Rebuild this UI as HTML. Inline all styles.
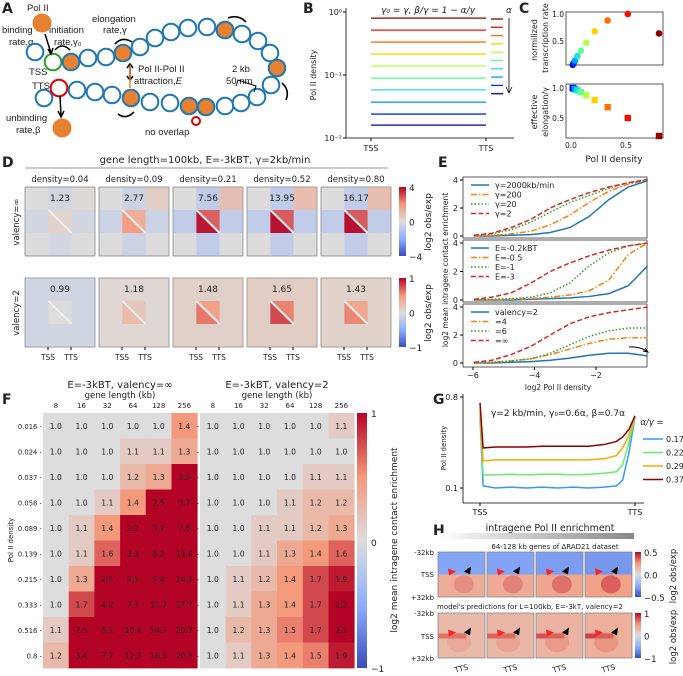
<!DOCTYPE html>
<html><head><meta charset="utf-8">
<style>
html,body{margin:0;padding:0;background:#fff;}
svg{display:block;font-family:"DejaVu Sans","Liberation Sans",sans-serif;}
text{fill:#222;}
</style></head>
<body>
<svg id="fig" width="683" height="676" viewBox="0 0 683 676" xmlns="http://www.w3.org/2000/svg">
<defs>
<linearGradient id="hgrad" x1="0" x2="1" y1="0" y2="0"><stop offset="0" stop-color="#fff"/><stop offset="1" stop-color="#888"/></linearGradient>
<linearGradient id="cb4" x1="0" x2="0" y1="0" y2="1"><stop offset="0" stop-color="#b40426"/><stop offset="0.25" stop-color="#f4987a"/><stop offset="0.5" stop-color="#dddddd"/><stop offset="0.75" stop-color="#8db0fe"/><stop offset="1" stop-color="#3b4cc0"/></linearGradient>
</defs>
<g font-weight="bold" font-size="14">
<text x="2" y="13">A</text>
<text x="303" y="13">B</text>
<text x="519" y="13">C</text>
<text x="2" y="167">D</text>
<text x="438" y="167">E</text>
<text x="2" y="404">F</text>
<text x="433" y="404">G</text>
<text x="433" y="535">H</text>
</g>
<g font-size="9.5" font-family="Liberation Sans, sans-serif">
<text x="27" y="11">Pol II</text>
<text x="2" y="33">binding</text><text x="9" y="45">rate,α</text>
<text x="49" y="33">initiation</text><text x="54" y="45">rate,γ₀</text>
<text x="92" y="22">elongation</text><text x="103" y="33">rate,γ</text>
<text x="29" y="75">TSS</text><text x="32" y="89">TTS</text>
<text x="138" y="72">Pol II-Pol II</text><text x="134" y="84">attraction,<tspan font-style="italic">E</tspan></text>
<text x="232" y="72">2 kb</text><text x="226" y="84">50 nm</text>
<text x="6" y="121">unbinding</text><text x="16" y="133">rate,β</text>
<text x="145" y="135">no overlap</text>
</g>
<g id="panelA"></g>
<g id="panelB"></g>
<g id="panelC"></g>
<g id="panelD"></g>
<g id="panelE"></g>
<g id="panelF"></g>
<g id="panelG"></g>
<g id="panelH"></g>
</svg>
<script>
// ---------- data ----------
const densities = [0.016,0.024,0.037,0.058,0.089,0.139,0.215,0.333,0.516,0.8];
const bColors = ['#0000b4','#0030ff','#00a0ff','#20e0e0','#60ff90','#b0ff40','#ffd000','#ff7000','#f01000','#8b0000'];
const cRate = [0.06,0.09,0.14,0.22,0.32,0.47,0.68,0.88,1.0,0.64];
const cElong = [1.0,0.99,0.98,0.96,0.93,0.88,0.80,0.68,0.50,0.20];
const dDensLabels = ['0.04','0.09','0.21','0.52','0.80'];
const dValsTop = [1.23,2.77,7.56,13.95,16.17];
const dValsBot = [0.99,1.18,1.48,1.65,1.43];
const eX = [-5.97,-5.38,-4.76,-4.11,-3.49,-2.85,-2.22,-1.58,-0.95,-0.32];
const e1Blue = [0,0,0.05,0.1,0.25,0.6,1.4,2.6,3.5,3.95];
const e1Orange = [0,0.05,0.15,0.35,0.8,1.5,2.4,3.2,3.7,4.0];
const e1Green = [0.05,0.15,0.45,1.0,1.7,2.4,2.9,3.4,3.8,4.0];
const e1Red = [0.05,0.2,0.6,1.2,2.0,2.6,3.1,3.5,3.8,4.05];
const e2Blue = [0,0,0,0.05,0.1,0.15,0.25,0.45,1.0,2.4];
const e2Orange = [0,0,0.05,0.1,0.2,0.35,0.65,1.4,3.2,4.0];
const e2Green = [0,0.05,0.1,0.2,0.5,1.2,2.4,3.3,3.8,4.0];
const e2Red = [0.05,0.2,0.5,1.2,2.0,2.6,3.1,3.5,3.8,4.0];
const e3Blue = [0,0,0.05,0.1,0.2,0.35,0.55,0.7,0.7,0.5];
const e3Orange = [0,0.05,0.15,0.3,0.6,1.0,1.4,1.7,1.8,1.8];
const e3Green = [0,0.05,0.15,0.3,0.7,1.3,1.9,2.3,2.5,2.5];
const e3Red = [0.05,0.2,0.6,1.2,2.0,2.8,3.3,3.6,3.8,4.0];
const e1Labels = ['γ=2000kb/min','γ=200','γ=20','γ=2'];
const e2Labels = ['E=-0.2kBT','E=-0.5','E=-1','E=-3'];
const e3Labels = ['valency=2','=4','=6','=∞'];
const fGeneLengths = ['8','16','32','64','128','256'];
const fRowLabels = ['0.016','0.024','0.037','0.058','0.089','0.139','0.215','0.333','0.516','0.8'];
const fLeft = [
[1.0,1.0,1.0,1.0,1.0,1.4],[1.0,1.0,1.0,1.1,1.1,1.3],[1.0,1.0,1.0,1.2,1.3,2.9],[1.0,1.0,1.1,1.4,2.5,3.7],
[1.0,1.1,1.4,2.2,3.7,7.6],[1.0,1.1,1.6,3.3,6.2,11.6],[1.0,1.3,2.5,5.5,9.4,14.7],[1.0,1.7,4.2,7.7,11.7,17.7],
[1.1,2.5,6.1,10.4,14.7,20.7],[1.2,3.4,7.7,12.3,16.5,20.7]];
const fRight = [
[1.0,1.0,1.0,1.0,1.0,1.1],[1.0,1.0,1.0,1.0,1.0,1.0],[1.0,1.0,1.0,1.0,1.1,1.1],[1.0,1.0,1.0,1.1,1.2,1.2],
[1.0,1.0,1.1,1.1,1.2,1.3],[1.0,1.0,1.1,1.3,1.4,1.6],[1.0,1.1,1.2,1.4,1.7,1.9],[1.0,1.1,1.3,1.4,1.7,2.2],
[1.0,1.2,1.3,1.5,1.7,2.1],[1.0,1.1,1.3,1.4,1.5,1.9]];
const gPos = [0,0.02,0.1,0.2,0.3,0.4,0.5,0.6,0.7,0.8,0.88,0.92,0.96,1.0];
const g017 = [0.5,0.105,0.10,0.102,0.10,0.102,0.10,0.102,0.10,0.102,0.105,0.12,0.22,0.5];
const g022 = [0.55,0.135,0.135,0.137,0.135,0.137,0.137,0.135,0.137,0.14,0.145,0.17,0.28,0.5];
const g029 = [0.6,0.185,0.19,0.19,0.19,0.19,0.19,0.19,0.19,0.195,0.21,0.25,0.33,0.52];
const g037 = [0.7,0.25,0.255,0.255,0.255,0.26,0.26,0.26,0.26,0.27,0.29,0.32,0.38,0.52];
const gLabels = ['0.17','0.22','0.29','0.37'];
const hExp = [0.35,0.45,0.65,0.85];
const hModel = [0.4,0.5,0.7,0.85];

// ---------- helpers ----------
const NS='http://www.w3.org/2000/svg';
function mk(parent, tag, attrs){const e=document.createElementNS(NS,tag);for(const k in attrs)e.setAttribute(k,attrs[k]);parent.appendChild(e);return e;}
function txt(parent,x,y,s,size,anchor,extra){const e=mk(parent,'text',Object.assign({x:x,y:y,'font-size':size||8,'text-anchor':anchor||'start'},extra||{}));e.textContent=s;return e;}
function lerp(a,b,t){return a+(b-a)*t;}
function cw(t){t=Math.max(-1,Math.min(1,t));const st=[[-1,[59,76,192]],[-0.5,[141,176,254]],[0,[221,221,221]],[0.5,[244,152,122]],[1,[180,4,38]]];
 for(let i=0;i<st.length-1;i++){if(t<=st[i+1][0]){const u=(t-st[i][0])/(st[i+1][0]-st[i][0]);const c=st[i][1].map((v,j)=>Math.round(lerp(v,st[i+1][1][j],u)));return 'rgb('+c.join(',')+')';}}return 'rgb(180,4,38)';}

// ---------- Panel A ----------
const A=document.getElementById('panelA');
const chainTop=[[35,52],[53,62],[71,62],[88,58],[106,57],[123,53],[140,47],[155,38],[171,32],[188,28],[207,27],[225,30],[242,34],[258,41],[270,53],[277,68]];
const chainBot=[[44,98],[59,88],[77,90],[95,92],[112,95],[131,98],[150,102],[170,103],[189,106],[206,107],[225,106],[241,103],[257,97],[271,85]];
const filled={'71,62':1,'123,53':1,'225,30':1,'277,68':1,'131,98':1,'189,106':1,'206,107':1};
[...chainTop,...chainBot].forEach(p=>{
 const k=p[0]+','+p[1];
 let stroke='#1f77b4';
 if(k==='53,62')stroke='#2ca02c';
 if(k==='59,88')stroke='#e00000';
 const c=mk(A,'circle',{cx:p[0],cy:p[1],r:8.3,fill:filled[k]?'#e8812f':'#fff',stroke:stroke,'stroke-width':2});
 
 
});
const p1=mk(A,'circle',{cx:42,cy:23,r:9.5,fill:'#e8812f'});


const p2=mk(A,'circle',{cx:62,cy:128,r:9.5,fill:'#e8812f'});


const arrA=mk(A,'path',{d:'M45 34 L51 53 M48 49 L51 54 L53 48 M60 96 L61 115 M58 111 L61 117 L64 111',stroke:'#000','stroke-width':1.5,fill:'none'});


const arrB=mk(A,'path',{d:'M55 50 Q62 42 70 50 M115 44 Q122 36 132 42 M228 18 Q238 14 246 22 M282 83 Q290 90 286 100 M118 114 Q126 120 134 112 M130 80 L130 64 M127 68 L130 64 L133 68 M127 76 L130 80 L133 76',stroke:'#000','stroke-width':1.6,fill:'none'});


const attr=mk(A,'path',{d:'M130 65 L130 88',stroke:'#e8812f','stroke-width':1.5});


const noOv=mk(A,'circle',{cx:196,cy:121,r:4,fill:'none',stroke:'#e00000','stroke-width':2});


const brk=mk(A,'path',{d:'M236 86 L238 80 L256 86 L254 92',stroke:'#000','stroke-width':1,fill:'none'});



// ---------- Panel B ----------
const B=document.getElementById('panelB');
const bx0=346,bx1=514,bTSS=371,bTTS=486;
function byScale(d){return 12+(0-Math.log10(d))*63;}
const bAx=mk(B,'path',{d:`M${bx0} 8 L${bx0} 138 L${bx1} 138`,stroke:'#000','stroke-width':0.8,fill:'none'});


[[1,'10⁰'],[0.1,'10⁻¹'],[0.01,'10⁻²']].forEach(t=>{const y=byScale(t[0]);mk(B,'line',{x1:bx0-3,x2:bx0,y1:y,y2:y,stroke:'#000'});const l=txt(B,bx0-4,y+3,t[1],8,'end');});
[[bTSS,'TSS'],[bTTS,'TTS']].forEach(t=>{mk(B,'line',{x1:t[0],x2:t[0],y1:138,y2:141,stroke:'#000'});const l=txt(B,t[0],151,t[1],8,'middle');});
const bYl=txt(B,0,0,'Pol II density',8,'middle',{transform:'translate(316,75) rotate(-90)'});


const bT=txt(B,428,13,'γ₀ = γ, β/γ = 1 − α/γ',9,'middle',{'font-style':'italic'});


densities.forEach((d,i)=>{const y=byScale(d);
 const ln=mk(B,'line',{x1:bTSS,x2:bTTS,y1:y,y2:y,stroke:bColors[i],'stroke-width':1.3});
 
 
 const lg=mk(B,'line',{x1:491,x2:503,y1:19+(9-i)*8.3,y2:19+(9-i)*8.3,stroke:bColors[i],'stroke-width':1.3});
 
 
});
const bArr=mk(B,'path',{d:'M509 18 L509 92 M506 87 L509 93 L512 87',stroke:'#000','stroke-width':0.8,fill:'none'});


const bA=txt(B,506,13,'α',9,'start',{'font-style':'italic'});



// ---------- Panel C ----------
const C=document.getElementById('panelC');
function cx(d){return 571+d*110;}
const cFr1=mk(C,'rect',{x:566,y:12,width:97,height:53,fill:'none',stroke:'#333','stroke-width':0.8});


const cFr2=mk(C,'rect',{x:566,y:84,width:97,height:54,fill:'none',stroke:'#333','stroke-width':0.8});


function cy1(v){return 14+(1-v)*54;}
function cy2(v){return 88+(1-v)*60;}
[[1,'1.0'],[0.5,'0.5']].forEach(t=>{const l=txt(C,564,cy1(t[0])+3,t[1],7.5,'end');
 const l2=txt(C,564,cy2(t[0])+3,t[1],7.5,'end');});
[[0,'0.0'],[0.5,'0.5']].forEach(t=>{const l=txt(C,cx(t[0]),148,t[1],7.5,'middle');});
const cXl=txt(C,614,162,'Pol II density',9,'middle');


const cY1=txt(C,0,0,'normilized',8,'middle',{transform:'translate(537,40) rotate(-90)'});


const cY1b=txt(C,0,0,'transcription rate',8,'middle',{transform:'translate(548,38) rotate(-90)'});


const cY2=txt(C,0,0,'effective',8,'middle',{transform:'translate(537,112) rotate(-90)'});


const cY2b=txt(C,0,0,'elongation/γ',8,'middle',{transform:'translate(548,112) rotate(-90)'});


densities.forEach((d,i)=>{
 const pt=mk(C,'circle',{cx:cx(d),cy:cy1(cRate[i]),r:3.3,fill:bColors[i]});
 
 
 const sq=mk(C,'rect',{x:cx(d)-3.2,y:cy2(cElong[i])-3.2,width:6.4,height:6.4,fill:bColors[i]});
 
 
});

// ---------- Panel D ----------
const D=document.getElementById('panelD');
const dT=txt(D,205,163,'gene length=100kb, E=-3kBT, γ=2kb/min',10,'middle');


const dLine=mk(D,'line',{x1:25,x2:388,y1:168,y2:168,stroke:'#999','stroke-width':1});


function dHeat(x,y,w,h,I,val,inf){
 const g=mk(D,'g',{});
 
 
 mk(g,'rect',{x:x,y:y,width:w,height:h,fill:'#dcdcdc',stroke:'#888','stroke-width':0.8});
 const a=x+w/3,b=x+2*w/3,c=y+h/3,d=y+2*h/3;
 if(inf){
  const bo=0.1+0.25*I;
  [[x,c,w/3,h/3],[b,c,w/3,h/3],[a,y,w/3,h/3],[a,d,w/3,h/3]].forEach(r=>mk(g,'rect',{x:r[0],y:r[1],width:r[2],height:r[3],fill:'#8db0fe','fill-opacity':bo}));
  mk(g,'rect',{x:b,y:y,width:w/3,height:h/3,fill:'#f4987a','fill-opacity':0.45*I});
 }else{
  mk(g,'rect',{x:x,y:y,width:w,height:h,fill:'#f4a88a','fill-opacity':0.35*I});
  if(I<0.1) mk(g,'rect',{x:x,y:y,width:w,height:h,fill:'#a8c0f0','fill-opacity':0.25});
 }
 mk(g,'polygon',{points:`${a},${c} ${a},${d} ${b},${d}`,fill:cw(I),'fill-opacity':0.95});
 mk(g,'polygon',{points:`${a},${c} ${b},${c} ${b},${d}`,fill:cw(I*0.75),'fill-opacity':0.9});
 mk(g,'line',{x1:a,y1:c,x2:b,y2:d,stroke:'#eee','stroke-width':2});
 const t=txt(g,x+w/2,y+14,val.toFixed(2),9,'middle');
 
 
}
const dX=[25,99,173,247,321];
dX.forEach((x,i)=>{
 const l=txt(D,x+35,182,'density='+dDensLabels[i],8.5,'middle');
 
 
 dHeat(x,187,70,69,Math.min(1,Math.log2(dValsTop[i])/3),dValsTop[i],true);
 dHeat(x,278,70,69,Math.min(1,Math.max(0,Math.log2(dValsBot[i])*1.1)),dValsBot[i],false);
 ['TSS','TTS'].forEach((s,j)=>{const tx=x+23+j*23;mk(D,'line',{x1:tx,x2:tx,y1:347,y2:350,stroke:'#000'});const l2=txt(D,tx,360,s,7.5,'middle');});
});
const dV1=txt(D,0,0,'valency=∞',8.5,'middle',{transform:'translate(19,222) rotate(-90)'});


const dV2=txt(D,0,0,'valency=2',8.5,'middle',{transform:'translate(19,313) rotate(-90)'});


[[187,['4','0','−4']],[278,['1','0','−1']]].forEach(cb=>{
 const r=mk(D,'rect',{x:399,y:cb[0],width:7,height:69,fill:'url(#cb4)'});
 
 
 cb[1].forEach((s,k)=>{const l=txt(D,409,cb[0]+4+k*34.5,s,9);});
 const lb=txt(D,0,0,'log2 obs/exp',9,'middle',{transform:`translate(431,${cb[0]+35}) rotate(-90)`});
 
 
});

// ---------- Panel E ----------
const E=document.getElementById('panelE');
const ex0=463,ex1=647;
function exs(v){return 473+(v+6)*30.75;}
const eStyles=[['#1f77b4',''],['#ff7f0e','6,2,1.5,2'],['#2ca02c','1.5,2'],['#d62728','5,2.5']];
function ePanel(y0,y1,yZero,series,labels,extraArrow){
 const fr=mk(E,'rect',{x:ex0,y:y0,width:ex1-ex0,height:y1-y0,fill:'none',stroke:'#333','stroke-width':0.8});
 
 
 const sc=(yZero-(y0+3))/4;
 [0,2,4].forEach(v=>{const y=yZero-v*sc;mk(E,'line',{x1:ex0-3,x2:ex0,y1:y,y2:y,stroke:'#000'});const l=txt(E,ex0-5,y+3,String(v),8,'end');});
 series.forEach((s,i)=>{
  const pts=s.map((v,k)=>exs(eX[k])+','+(yZero-v*sc)).join(' ');
  const pl=mk(E,'polyline',{points:pts,fill:'none',stroke:eStyles[i][0],'stroke-width':1.5,'stroke-dasharray':eStyles[i][1]});
  
  
  const ly=y0+11+i*9.5;
  const lg=mk(E,'line',{x1:471,x2:489,y1:ly-3,y2:ly-3,stroke:eStyles[i][0],'stroke-width':1.5,'stroke-dasharray':eStyles[i][1]});
  
  
  const lt=txt(E,495,ly,labels[i],8);
  
  
 });
 if(extraArrow){const ar=mk(E,'path',{d:'M629 347 Q640 346 648 352 M643 351 L648 352 L645 348',stroke:'#000','stroke-width':1,fill:'none'});}
}
ePanel(177,238,236,[e1Blue,e1Orange,e1Green,e1Red],e1Labels,false);
ePanel(240,302,300,[e2Blue,e2Orange,e2Green,e2Red],e2Labels,false);
ePanel(304,367,363,[e3Blue,e3Orange,e3Green,e3Red],e3Labels,true);
[-6,-4,-2].forEach(v=>{mk(E,'line',{x1:exs(v),x2:exs(v),y1:367,y2:370,stroke:'#000'});const l=txt(E,exs(v),378,'−'+Math.abs(v),8,'middle');});
const eXl=txt(E,558,390,'log2 Pol II density',7.5,'middle');


const eYl=txt(E,0,0,'log2 mean intragene contact enrichment',7.5,'middle',{transform:'translate(448,270) rotate(-90)'});



// ---------- Panel F ----------
const F=document.getElementById('panelF');
function fHeat(x0,vals,title,showLabels){
 const cw_=25.7,ch=25.5,y0=413;
 const t=txt(F,x0+77,388,title,10,'middle');
 
 
 const gl=txt(F,x0+77,398,'gene length (kb)',8.5,'middle');
 
 
 fGeneLengths.forEach((s,j)=>{const l=txt(F,x0+cw_*(j+0.5),408,s,7,'middle');});
 vals.forEach((row,i)=>row.forEach((v,j)=>{
  const r=mk(F,'rect',{x:x0+j*cw_,y:y0+i*ch,width:cw_+0.4,height:ch+0.4,fill:cw(Math.log2(v))});
  
  
  const l=txt(F,x0+j*cw_+cw_/2,y0+i*ch+ch/2+3,v.toFixed(1),7.6,'middle');
  
  
 }));
 fRowLabels.forEach((s,i)=>{const l=txt(F,x0-1,y0+i*ch+ch/2+3,showLabels?s+' -':'-',6.8,'end');});
}
fHeat(43,fLeft,'E=-3kBT, valency=∞',true);
fHeat(200,fRight,'E=-3kBT, valency=2',false);
const fYl=txt(F,0,0,'Pol II density',7,'middle',{transform:'translate(13,540) rotate(-90)'});


const fCb=mk(F,'rect',{x:357,y:413,width:10,height:255,fill:'url(#cb4)'});


[['1',417],['0',546],['−1',672]].forEach(t=>{const l=txt(F,371,t[1],t[0],9);});
const fCt=txt(F,0,0,'log2 mean intragene contact enrichment',9,'middle',{transform:'translate(397,540) rotate(-90)'});



// ---------- Panel G ----------
const G=document.getElementById('panelG');
function gy(d){return 397+(Math.log10(0.8)-Math.log10(d))*100.8;}
function gx(p){return 480+p*155;}
const gAx=mk(G,'path',{d:'M463 394 L463 503 L644 503',stroke:'#000','stroke-width':0.8,fill:'none'});


[[0.8,'0.8'],[0.1,'0.1']].forEach(t=>{const y=gy(t[0]);mk(G,'line',{x1:460,x2:463,y1:y,y2:y,stroke:'#000'});const l=txt(G,458,y+3,t[1],8,'end');});
[[0,'TSS'],[1,'TTS']].forEach(t=>{mk(G,'line',{x1:gx(t[0]),x2:gx(t[0]),y1:503,y2:506,stroke:'#000'});const l=txt(G,gx(t[0]),515,t[1],8,'middle');});
const gYl=txt(G,0,0,'Pol II density',7,'middle',{transform:'translate(446,448) rotate(-90)'});


const gT=txt(G,558,416,'γ=2 kb/min, γ₀=0.6α, β=0.7α',9,'middle');


const gSeries=[g017,g022,g029,g037];
const gCols=['#3399ff','#66ee66','#ffa500','#8b0000'];
const gLt=txt(G,652,425,'α/γ =',8.5,'middle',{'font-style':'italic'});


gSeries.forEach((s,i)=>{
 const pl=mk(G,'polyline',{points:s.map((v,k)=>gx(gPos[k])+','+gy(v)).join(' '),fill:'none',stroke:gCols[i],'stroke-width':1.5});
 
 
 const ly=439+i*13.5;
 const lg=mk(G,'line',{x1:643,x2:663,y1:ly,y2:ly,stroke:gCols[i],'stroke-width':1.5});
 
 
 const lt=txt(G,666,ly+3,gLabels[i],8);
 
 
});

// ---------- Panel H ----------
const H=document.getElementById('panelH');
const hT=txt(H,550,531,'intragene Pol II enrichment',9.5,'middle');


const hBar=mk(H,'rect',{x:438,y:533,width:196,height:6,fill:'url(#hgrad)'});


const hS1=txt(H,555,549,'64-128 kb genes of ΔRAD21 dataset',7,'middle');


const hS2=txt(H,530,609,"model's predictions for L=100kb, E=-3kT, valency=2",7,'middle');


const hX=[438,487,536,585];
function hMap(x,y,I,exp){
 const g=mk(H,'g',{});
 
 
 const w=47,h=45;
 if(exp){
  mk(g,'rect',{x:x,y:y,width:w,height:h/2,fill:cw(-0.5-0.15*I)});
  mk(g,'rect',{x:x,y:y+h/2,width:w,height:h/2,fill:cw(0.3+0.15*I)});
  mk(g,'ellipse',{cx:x+w*0.55,cy:y+h*0.72,rx:10,ry:9,fill:cw(0.8),'fill-opacity':I*0.8});
 }else{
  mk(g,'rect',{x:x,y:y,width:w,height:h,fill:cw(0.2+0.15*I)});
  mk(g,'rect',{x:x,y:y+h/2-2,width:w*0.6,height:5,fill:cw(0.5+0.4*I),'fill-opacity':0.9});
  mk(g,'ellipse',{cx:x+w*0.45,cy:y+h*0.65,rx:12,ry:10,fill:cw(0.6),'fill-opacity':I*0.6});
 }
 mk(g,'rect',{x:x,y:y,width:w,height:h,fill:'none',stroke:'#888','stroke-width':0.8});
 const ra=mk(g,'polygon',{points:`${x+10},${y+h/2-6} ${x+18},${y+h/2-3} ${x+11},${y+h/2+1}`,fill:'#ff2020'});
 
 
 const ba=mk(g,'polygon',{points:`${x+33},${y+h/2-8} ${x+26},${y+h/2-3} ${x+32},${y+h/2}`,fill:'#000'});
 
 
}
hX.forEach((x,i)=>{hMap(x,552,hExp[i],true);hMap(x,613,hModel[i],false);
 const l=txt(H,0,0,'TTS',7.5,'middle',{transform:`translate(${x+24},671) rotate(-15)`});
 
 
});
[[552,'-32kb'],[574,'TSS'],[597,'+32kb'],[613,'-32kb'],[636,'TSS'],[658,'+32kb']].forEach(t=>{const l=txt(H,434,t[0]+3,t[1],7,'end');});
[[552,['0.5','0.0','−0.5']],[613,['1','0','−1']]].forEach(cb=>{
 const r=mk(H,'rect',{x:635,y:cb[0],width:6,height:45,fill:'url(#cb4)'});
 
 
 cb[1].forEach((s,k)=>{const l=txt(H,644,cb[0]+4+k*22.5,s,8.5);});
 const lb=txt(H,0,0,'log2 obs/exp',8.5,'middle',{transform:`translate(676,${cb[0]+24}) rotate(-90)`});
 
 
});
</script>
</body></html>
